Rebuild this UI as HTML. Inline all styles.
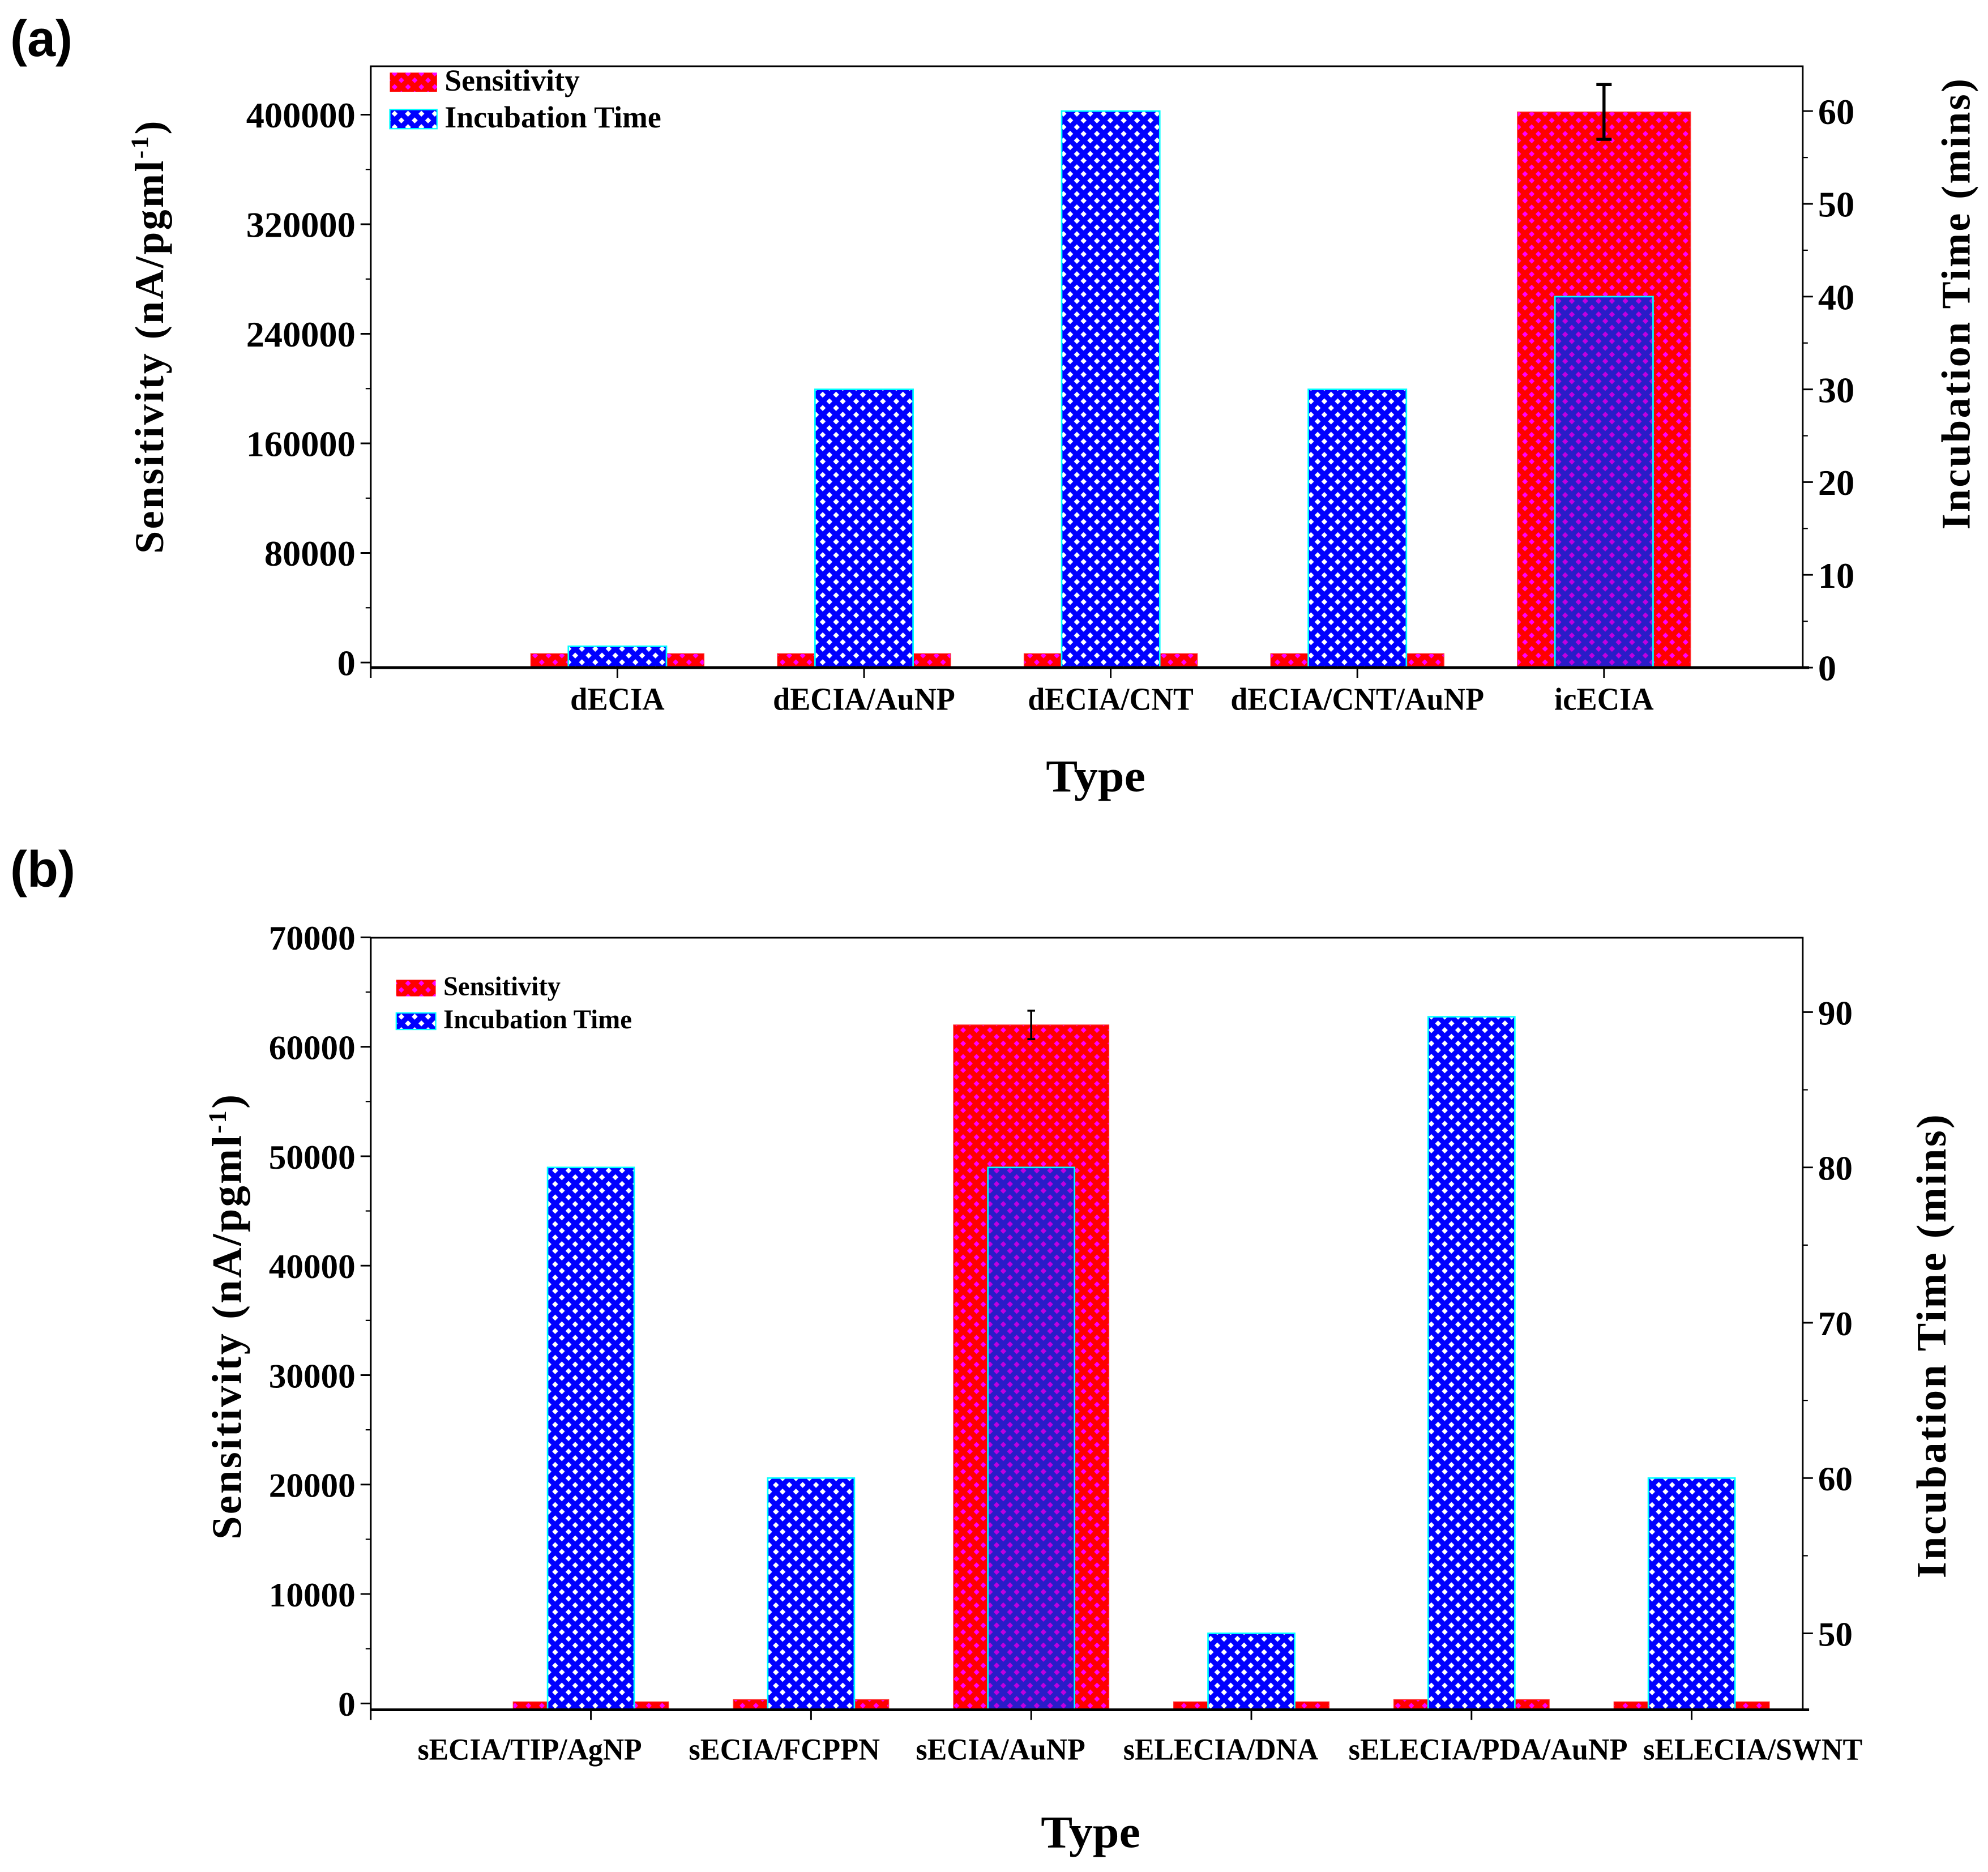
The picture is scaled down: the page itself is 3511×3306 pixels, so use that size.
<!DOCTYPE html>
<html><head><meta charset="utf-8">
<style>
html,body{margin:0;padding:0;background:#fff;}
svg{display:block;}
text{font-family:"Liberation Serif",serif;font-weight:bold;fill:#000;}
.lab{font-family:"Liberation Sans",sans-serif;}
</style></head>
<body>
<svg id="chart" width="3511" height="3306" viewBox="0 0 1560.4 1469.3" xmlns="http://www.w3.org/2000/svg">
<defs>
<pattern id="redPat" patternUnits="userSpaceOnUse" width="10.5" height="10.5">
<rect width="10.5" height="10.5" fill="#ff0000"/>
<path d="M5.25,3 L7.5,5.25 L5.25,7.5 L3,5.25Z M0,-2.25 L2.25,0 L0,2.25 L-2.25,0Z M10.5,-2.25 L12.75,0 L10.5,2.25 L8.25,0Z M0,8.25 L2.25,10.5 L0,12.75 L-2.25,10.5Z M10.5,8.25 L12.75,10.5 L10.5,12.75 L8.25,10.5Z" fill="#ff00ff"/>
</pattern>
<pattern id="bluePat" patternUnits="userSpaceOnUse" width="10.5" height="10.5">
<rect width="10.5" height="10.5" fill="#0000ff"/>
<path d="M5.25,2.9 L7.6,5.25 L5.25,7.6 L2.9,5.25Z M0,-2.35 L2.35,0 L0,2.35 L-2.35,0Z M10.5,-2.35 L12.85,0 L10.5,2.35 L8.15,0Z M0,8.15 L2.35,10.5 L0,12.85 L-2.35,10.5Z M10.5,8.15 L12.85,10.5 L10.5,12.85 L8.15,10.5Z" fill="#ffffff"/>
</pattern>
<pattern id="overPat" patternUnits="userSpaceOnUse" width="10.5" height="10.5">
<rect width="10.5" height="10.5" fill="#2a1cc8"/>
<path d="M5.25,2.9 L7.6,5.25 L5.25,7.6 L2.9,5.25Z M0,-2.35 L2.35,0 L0,2.35 L-2.35,0Z M10.5,-2.35 L12.85,0 L10.5,2.35 L8.15,0Z M0,8.15 L2.35,10.5 L0,12.85 L-2.35,10.5Z M10.5,8.15 L12.85,10.5 L10.5,12.85 L8.15,10.5Z" fill="#c000e0"/>
</pattern>
</defs>
<g id="panelA"></g>
<g id="panelB"></g>
</svg>
<script>
// Panel (a) data
const catsA = ["dECIA","dECIA/AuNP","dECIA/CNT","dECIA/CNT/AuNP","icECIA"];
const sensA = [6500, 6500, 6500, 6500, 402000];
const sensErrA = [0, 0, 0, 0, 20000];
const timeA = [2.3, 30, 60, 30, 40];
const leftTicksA = [0, 80000, 160000, 240000, 320000, 400000];
const rightTicksA = [0, 10, 20, 30, 40, 50, 60];
// Panel (b) data
const catsB = ["sECIA/TIP/AgNP","sECIA/FCPPN","sECIA/AuNP","sELECIA/DNA","sELECIA/PDA/AuNP","sELECIA/SWNT"];
const sensB = [150, 350, 62000, 150, 350, 150];
const sensErrB = [0, 0, 1300, 0, 0, 0];
const timeB = [80, 60, 80, 50, 89.7, 60];
const leftTicksB = [0, 10000, 20000, 30000, 40000, 50000, 60000, 70000];
const rightTicksB = [50, 60, 70, 80, 90];

// layout-only: label widths / offsets (condensed font emulation)
const labWA = [74, 143, 130, 199, 78];
const labOffA = [0, 0, 0, 0, 0];
const labWB = [176, 150, 133, 153, 219, 172];
const labOffB = [-48, -21, -24, -24, 13, 48];

const NS = "http://www.w3.org/2000/svg";
function mk(parent, tag, attrs, txt){
  const e = document.createElementNS(NS, tag);
  for (const k in attrs) e.setAttribute(k, attrs[k]);
  if (txt !== undefined) e.textContent = txt;
  parent.appendChild(e);
  return e;
}

function drawPanel(g, cfg){
  const {L,R,T,B,y0,yPx,yStep,r0,rV,rPx,cats,sens,err,time,lt,rt,catStep,redW,blueW,tickFs,catFs,catY,legY,legFs,legSw,titleX,titleY,rTitleX,rTitleY,typeY,minorL,rMin} = cfg;
  const yL = v => y0 - v/yStep*yPx;
  const yR = v => r0 - (v - rV)*rPx;
  const xC = i => L + (i+1)*catStep;
  const lab = mk(g,'text',{x:8,y:cfg.labY,'font-size':40,class:'lab'},cfg.label);
  
  
  cats.forEach((c,i)=>{
    const top = yL(sens[i]);
    const r = mk(g,'rect',{x:xC(i)-redW/2,y:top,width:redW,height:B-top,fill:'url(#redPat)',stroke:'#ff3030','stroke-width':0.6});
    
    
  });
  cats.forEach((c,i)=>{
    const top = yR(time[i]);
    const over = sens[i] > 0 && yL(sens[i]) < top;
    const b = mk(g,'rect',{x:xC(i)-blueW/2,y:top,width:blueW,height:B-top,fill:over?'url(#overPat)':'url(#bluePat)',stroke:'#00ffff','stroke-width':1.2});
    
    
  });
  cats.forEach((c,i)=>{
    if (err[i] > 0){
      const x = xC(i), y1 = yL(sens[i]+err[i]), y2 = yL(sens[i]-err[i]);
      const eg = mk(g,'g',{stroke:'#000','stroke-width':cfg.errW});
      
      
      mk(eg,'line',{x1:x,y1:y1,x2:x,y2:y2});
      mk(eg,'line',{x1:x-cfg.capW,y1:y1,x2:x+cfg.capW,y2:y1});
      mk(eg,'line',{x1:x-cfg.capW,y1:y2,x2:x+cfg.capW,y2:y2});
    }
  });
  const fr = mk(g,'rect',{x:L,y:T,width:R-L,height:B-T,fill:'none',stroke:'#000','stroke-width':1.3});
  
  
  mk(g,'line',{x1:L,y1:B,x2:R+5,y2:B,stroke:'#000','stroke-width':2.2});
  mk(g,'line',{x1:L,y1:T,x2:L,y2:B+8,stroke:'#000','stroke-width':1.3});
  const lax = mk(g,'g',{});
  
  
  lt.forEach(v=>{
    const y = yL(v);
    const s = String(v);
    mk(lax,'line',{x1:L-8,y1:y,x2:L,y2:y,stroke:'#000','stroke-width':1.3});
    const t = mk(lax,'text',{x:L-12,y:y+tickFs*0.36,'font-size':tickFs,'text-anchor':'end',textLength:s.length*cfg.digitW,lengthAdjust:'spacingAndGlyphs'},s);
    
    
    if (minorL){
      const ym = yL(v + yStep/2);
      if (ym > T) mk(lax,'line',{x1:L-4,y1:ym,x2:L,y2:ym,stroke:'#000','stroke-width':1});
    }
  });
  const rax = mk(g,'g',{});
  
  
  rt.forEach(v=>{
    const y = yR(v);
    const s = String(v);
    mk(rax,'line',{x1:R,y1:y,x2:R+8,y2:y,stroke:'#000','stroke-width':1.3});
    const t = mk(rax,'text',{x:R+12,y:y+tickFs*0.36,'font-size':tickFs,textLength:s.length*cfg.digitW,lengthAdjust:'spacingAndGlyphs'},s);
    
    
  });
  const rStep = rt[1]-rt[0];
  for (let v = rMin; v < rt[rt.length-1]+rStep; v += rStep/2){
    const y = yR(v);
    if (y > T && y <= B && rt.indexOf(v) < 0) mk(rax,'line',{x1:R,y1:y,x2:R+4,y2:y,stroke:'#000','stroke-width':1});
  }
  cats.forEach((c,i)=>{
    mk(g,'line',{x1:xC(i),y1:B,x2:xC(i),y2:B+8,stroke:'#000','stroke-width':1.3});
    const w = cfg.labW[i];
    const t = mk(g,'text',{x:xC(i)+cfg.labOff[i]-w/2,y:catY,'font-size':catFs,textLength:w,lengthAdjust:'spacingAndGlyphs'},c);
    
    
  });
  const lg = mk(g,'g',{});
  
  
  mk(lg,'rect',{x:cfg.legX,y:legY,width:legSw[0],height:legSw[1],fill:'url(#redPat)'});
  mk(lg,'text',{x:cfg.legX+legSw[0]+6,y:legY+legSw[1]-1,'font-size':legFs,textLength:cfg.legW[0],lengthAdjust:'spacingAndGlyphs'},'Sensitivity');
  mk(lg,'rect',{x:cfg.legX,y:legY+cfg.legGap,width:legSw[0],height:legSw[1],fill:'url(#bluePat)',stroke:'#00ffff','stroke-width':1});
  mk(lg,'text',{x:cfg.legX+legSw[0]+6,y:legY+cfg.legGap+legSw[1]-1,'font-size':legFs,textLength:cfg.legW[1],lengthAdjust:'spacingAndGlyphs'},'Incubation Time');
  const tt = mk(g,'text',{x:cfg.typeX-39,y:typeY,'font-size':36,textLength:78,lengthAdjust:'spacingAndGlyphs'},'Type');
  
  
  const lt2 = mk(g,'text',{x:0,y:0,'font-size':cfg.titleFs,'text-anchor':'middle',transform:`translate(${titleX},${titleY}) rotate(-90)`,'letter-spacing':1.5});
  
  
  lt2.appendChild(document.createTextNode('Sensitivity (nA/pgml'));
  mk(lt2,'tspan',{dy:-12,'font-size':cfg.titleFs*0.6},'-1');
  mk(lt2,'tspan',{dy:12},')');
  const rt2 = mk(g,'text',{x:0,y:0,'font-size':cfg.titleFs,'text-anchor':'middle',transform:`translate(${rTitleX},${rTitleY}) rotate(-90)`,'letter-spacing':1.5},'Incubation Time (mins)');
  
  
}

drawPanel(document.getElementById('panelA'), {
  label:'(a)', labY:44,
  L:291,R:1415,T:52,B:524, y0:520, yStep:80000, yPx:86, r0:524, rV:0, rPx:7.28, rMin:0,
  cats:catsA, sens:sensA, err:sensErrA, time:timeA, lt:leftTicksA, rt:rightTicksA,
  catStep:193.6, redW:136, blueW:77, tickFs:28, digitW:14.3, catFs:25, catY:557,
  labW:labWA, labOff:labOffA,
  legX:306, legY:57, legFs:24, legSw:[37,15], legGap:29, legW:[106,170],
  titleFs:32, titleX:128, titleY:264, rTitleX:1546, rTitleY:238, typeX:860, typeY:621,
  errW:2.4, capW:6, minorL:true
});
drawPanel(document.getElementById('panelB'), {
  label:'(b)', labY:696,
  L:291,R:1415,T:736,B:1342, y0:1337, yStep:10000, yPx:85.9, r0:1282, rV:50, rPx:12.19, rMin:45,
  cats:catsB, sens:sensB, err:sensErrB, time:timeB, lt:leftTicksB, rt:rightTicksB,
  catStep:172.8, redW:122, blueW:68, tickFs:27, digitW:13.6, catFs:24, catY:1381,
  labW:labWB, labOff:labOffB,
  legX:311, legY:769, legFs:21, legSw:[31,13], legGap:26, legW:[92,148],
  titleFs:33, titleX:189, titleY:1033, rTitleX:1527, rTitleY:1056, typeX:856, typeY:1450,
  errW:1.6, capW:3, minorL:true
});
</script>
</body></html>
